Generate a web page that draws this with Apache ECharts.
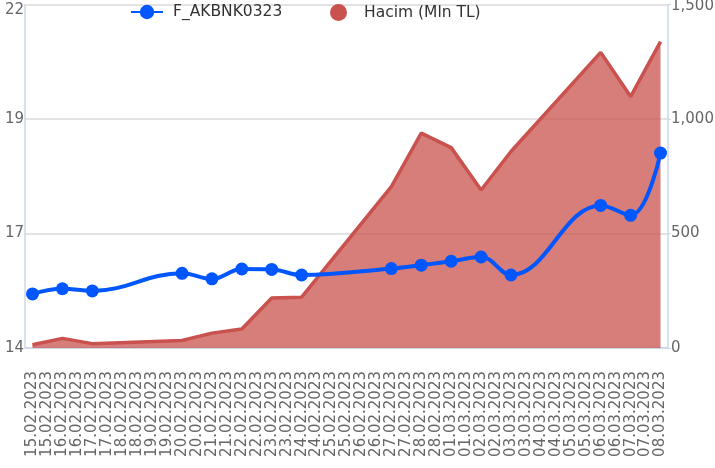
<!DOCTYPE html>
<html>
<head>
<meta charset="utf-8">
<script src="https://cdn.jsdelivr.net/npm/echarts@6/dist/echarts.min.js"></script>
<style>
  html, body { margin: 0; padding: 0; background: #ffffff; }
  #main { width: 715px; height: 468px; }
</style>
</head>
<body>
<div id="main"></div>
<script>
// all calendar days on the axis
const days = ['15.02.2023', '16.02.2023', '17.02.2023', '18.02.2023', '19.02.2023', '20.02.2023',
  '21.02.2023', '22.02.2023', '23.02.2023', '24.02.2023', '25.02.2023', '26.02.2023', '27.02.2023',
  '28.02.2023', '01.03.2023', '02.03.2023', '03.03.2023', '04.03.2023', '05.03.2023', '06.03.2023',
  '07.03.2023', '08.03.2023'];
// trading days that carry data
const tradeDays = ['15.02.2023', '16.02.2023', '17.02.2023', '20.02.2023', '21.02.2023', '22.02.2023',
  '23.02.2023', '24.02.2023', '27.02.2023', '28.02.2023', '01.03.2023', '02.03.2023', '03.03.2023',
  '06.03.2023', '07.03.2023', '08.03.2023'];
const price = [15.26, 15.38, 15.33, 15.74, 15.61, 15.84, 15.83, 15.70, 15.85, 15.93, 16.02, 16.12,
  15.70, 17.32, 17.09, 18.54];
const volume = [14, 42, 19, 33, 65, 83, 218, 222, 705, 938, 875, 690, 858, 1291, 1098, 1338];
const priceTicks = [14, 14 + 8 / 3, 14 + 16 / 3, 22];

// half-day slots, so every date shows up twice on the axis
let categories = [];
days.forEach((d, i) => {
  categories.push(d);
  if (i < days.length - 1) categories.push(d);
});
let priceData = categories.map(() => null);
let volumeData = categories.map(() => null);
tradeDays.forEach((d, i) => {
  let idx = days.indexOf(d) * 2;
  priceData[idx] = price[i];
  volumeData[idx] = volume[i];
});

const font = 'DejaVu Sans';
let myChart = echarts.init(document.getElementById('main'));
let option = {
  animation: false,
  legend: [{
    left: 130,
    top: 4,
    padding: 0,
    itemWidth: 32,
    itemHeight: 18,
    data: ['F_AKBNK0323'],
    textStyle: {color: '#333', fontSize: 15.5, fontFamily: font, padding: [0, 0, 0, 5]}
  }, {
    left: 330,
    top: 4,
    padding: 0,
    itemWidth: 17,
    itemHeight: 17,
    data: [{name: 'Hacim (Mln TL)', icon: 'circle'}],
    textStyle: {color: '#333', fontSize: 15.5, fontFamily: font, padding: [0, 0, 0, 12]}
  }],
  grid: {
    left: 25,
    right: 47,
    top: 4.5,
    bottom: 120,
    outerBoundsMode: 'none'
  },
  xAxis: {
    type: 'category',
    data: categories,
    boundaryGap: true,
    axisLine: {lineStyle: {color: '#ccd6eb', width: 1.5}},
    axisTick: {alignWithLabel: true, interval: 0, length: 17, lineStyle: {color: '#ccd6eb', width: 1.5}},
    axisLabel: {interval: 0, rotate: 90, margin: 23, color: '#666', fontSize: 15, fontFamily: font}
  },
  yAxis: [{
    type: 'value',
    min: 14,
    max: 22,
    position: 'left',
    axisLine: {show: true, lineStyle: {color: '#ccd6eb', width: 1.5}},
    axisTick: {show: false},
    splitLine: {show: false},
    axisLabel: {
      customValues: priceTicks,
      margin: 1,
      color: '#666',
      fontSize: 15,
      fontFamily: font,
      formatter: function (v) {
        if (v === 22) return '{t|22}';
        return String(Math.round(v));
      },
      rich: {t: {padding: [12, 0, 0, 0], color: '#666', fontSize: 15, fontFamily: font}}
    }
  }, {
    type: 'value',
    min: 0,
    max: 1500,
    interval: 500,
    position: 'right',
    axisLine: {show: true, lineStyle: {color: '#ccd6eb', width: 1.5}},
    axisTick: {show: true, length: 3, lineStyle: {color: '#ccd6eb'}},
    splitLine: {show: true, lineStyle: {color: '#e3e3e3', width: 2}},
    axisLabel: {
      margin: 3,
      color: '#666',
      fontSize: 15,
      fontFamily: font,
      formatter: function (v) {
        if (v === 1500) return '{t|1,500}';
        return echarts.format.addCommas(v);
      },
      rich: {t: {padding: [3, 0, 0, 0], color: '#666', fontSize: 15, fontFamily: font}}
    }
  }],
  series: [{
    name: 'Hacim (Mln TL)',
    type: 'line',
    yAxisIndex: 1,
    data: volumeData,
    connectNulls: true,
    showSymbol: false,
    color: '#c9514e',
    lineStyle: {width: 3.5, color: '#c9514e'},
    areaStyle: {color: '#c9514e', opacity: 0.75}
  }, {
    name: 'F_AKBNK0323',
    type: 'line',
    yAxisIndex: 0,
    data: priceData,
    connectNulls: true,
    smooth: 0.4,
    symbol: 'circle',
    symbolSize: 13,
    color: '#0057ff',
    lineStyle: {width: 4, color: '#0057ff'},
    itemStyle: {color: '#0057ff'}
  }]
};
myChart.setOption(option);
</script>
</body>
</html>
